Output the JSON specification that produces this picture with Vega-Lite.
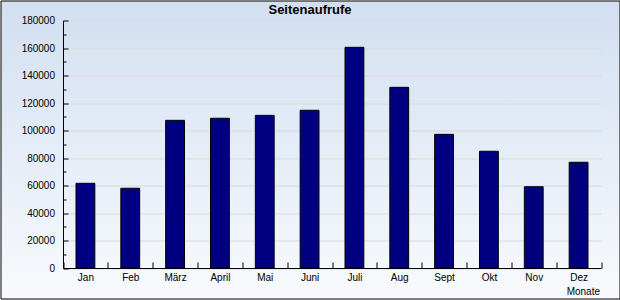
{
  "$schema": "https://vega.github.io/schema/vega-lite/v6.json",
  "autosize": {"type": "none"},
  "width": 619,
  "height": 298,
  "padding": {"left": 0.5, "top": 0.5, "right": 0.5, "bottom": 1.5},
  "view": {
    "fill": {"gradient": "linear", "x1": 0, "y1": 0, "x2": 0, "y2": 1,
      "stops": [{"offset": 0, "color": "#d2dff1"}, {"offset": 1, "color": "#f8fafd"}]},
    "stroke": "black",
    "strokeWidth": 1
  },
  "title": {
    "text": "Seitenaufrufe",
    "anchor": "middle",
    "frame": "group",
    "orient": "top",
    "baseline": "top",
    "offset": -4.5,
    "dy": 12,
    "font": "Liberation Sans",
    "fontSize": 13,
    "fontWeight": "bold",
    "color": "black"
  },
  "data": {
    "values": [
      {"Monat": "Jan", "Aufrufe": 61600},
      {"Monat": "Feb", "Aufrufe": 58000},
      {"Monat": "März", "Aufrufe": 107400},
      {"Monat": "April", "Aufrufe": 108900},
      {"Monat": "Mai", "Aufrufe": 111000},
      {"Monat": "Juni", "Aufrufe": 114700},
      {"Monat": "Juli", "Aufrufe": 160500},
      {"Monat": "Aug", "Aufrufe": 131400},
      {"Monat": "Sept", "Aufrufe": 97200},
      {"Monat": "Okt", "Aufrufe": 84900},
      {"Monat": "Nov", "Aufrufe": 59100},
      {"Monat": "Dez", "Aufrufe": 76900}
    ]
  },
  "encoding": {
    "x": {
      "field": "Monat",
      "type": "nominal",
      "sort": null,
      "scale": {"range": [62.5, 600.5], "paddingInner": 0, "paddingOuter": 0},
      "axis": {
        "orient": "bottom",
        "offset": -30.5,
        "labelAngle": 0,
        "tickBand": "extent",
        "tickSize": -6,
        "tickColor": "black",
        "domainColor": "black",
        "labelPadding": 10,
        "labelBaseline": "top",
        "grid": false,
        "title": "Monate",
        "titleX": 599,
        "titleY": 23,
        "titleAlign": "right",
        "titleAnchor": "end",
        "titleBaseline": "middle",
        "titleFont": "Liberation Sans",
        "titleFontSize": 10,
        "titleFontWeight": "normal",
        "titleColor": "black"
      }
    }
  },
  "layer": [
    {
      "mark": {"type": "bar", "color": "#000080", "stroke": "black", "strokeWidth": 1, "width": {"band": 0.42}},
      "encoding": {
        "y": {
          "field": "Aufrufe",
          "type": "quantitative",
          "scale": {"domain": [0, 180000], "nice": false, "range": [267.5, 20]},
          "axis": {
            "orient": "left",
            "offset": -62.5,
            "values": [0, 20000, 40000, 60000, 80000, 100000, 120000, 140000, 160000, 180000],
            "format": "d",
            "tickSize": -5,
            "tickColor": "black",
            "domainColor": "black",
            "labelPadding": 13.5,
            "grid": true,
            "gridColor": "#d9d9d9",
            "title": null
          }
        }
      }
    },
    {
      "mark": {"type": "bar", "opacity": 0, "width": {"band": 0.42}},
      "encoding": {
        "y": {
          "field": "Aufrufe",
          "type": "quantitative",
          "scale": {"domain": [0, 180000], "nice": false, "range": [267.5, 20]},
          "axis": {
            "orient": "left",
            "offset": -62.5,
            "values": [10000, 30000, 50000, 70000, 90000, 110000, 130000, 150000, 170000],
            "tickSize": -3,
            "tickColor": "black",
            "labels": false,
            "domain": false,
            "grid": false,
            "title": null
          }
        }
      }
    }
  ],
  "resolve": {"axis": {"y": "independent"}},
  "config": {
    "font": "Liberation Sans",
    "axis": {"labelFont": "Liberation Sans", "labelFontSize": 10, "labelColor": "black"}
  }
}
